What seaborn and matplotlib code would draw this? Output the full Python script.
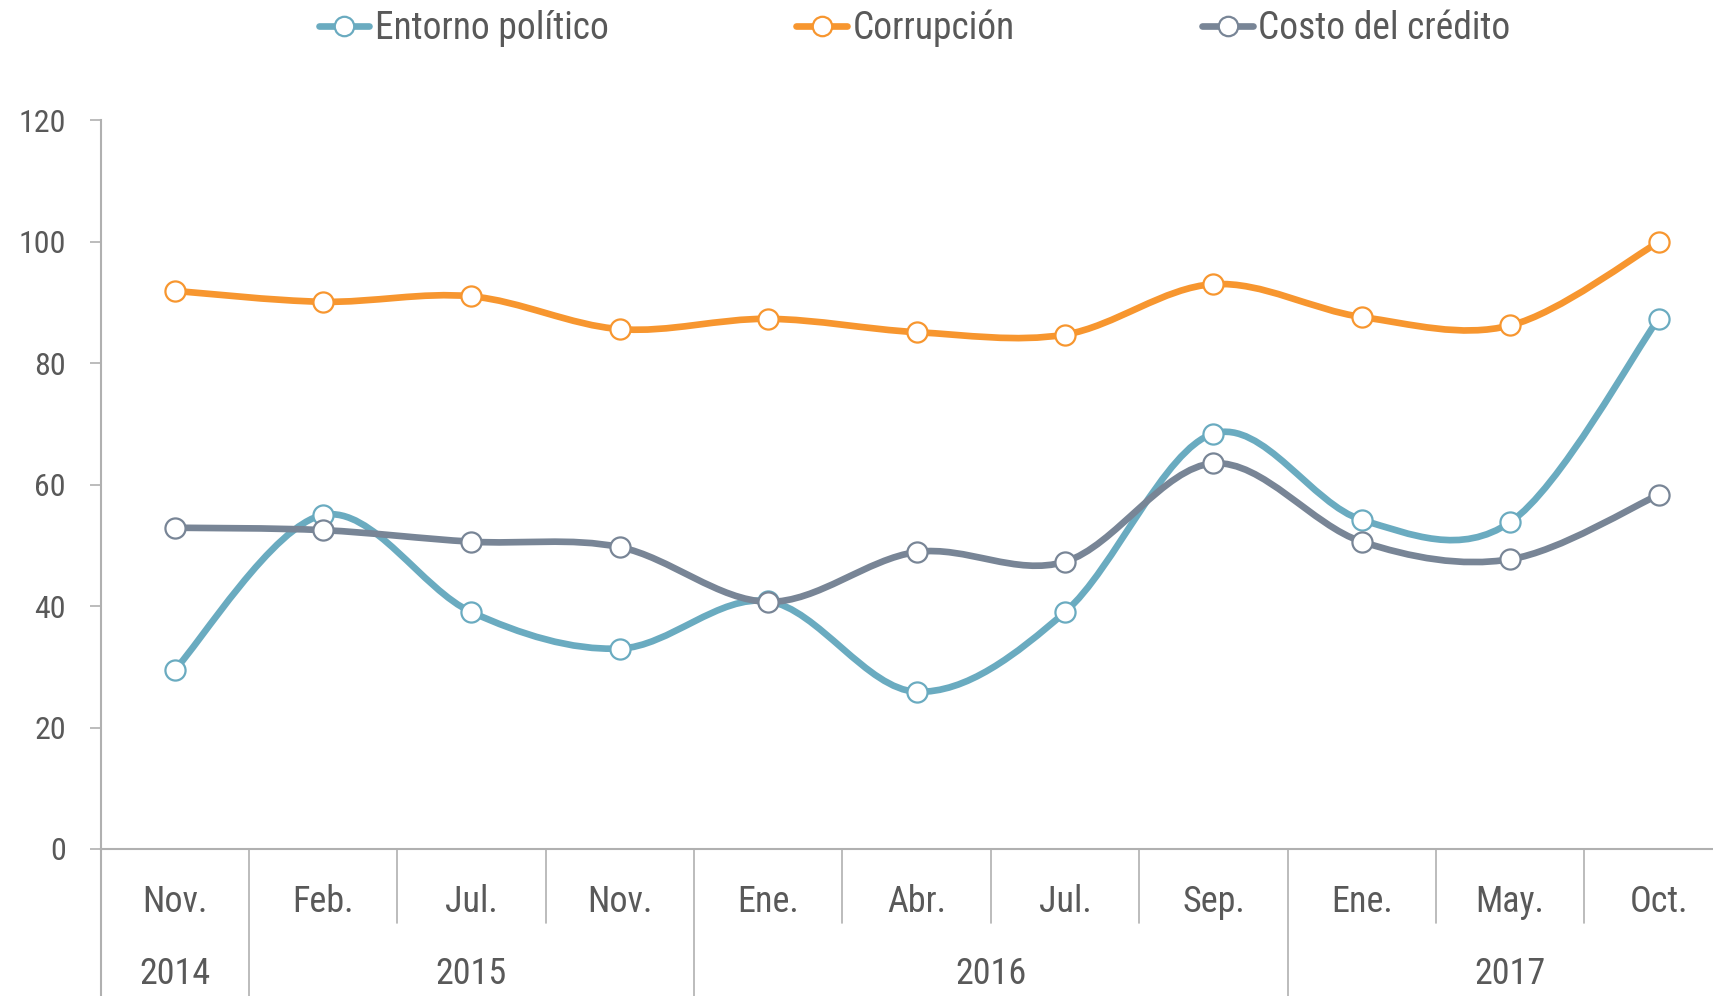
import matplotlib.pyplot as plt
import numpy as np
import pandas as pd
import seaborn as sns
from matplotlib import font_manager
from matplotlib.lines import Line2D
from matplotlib.path import Path
from matplotlib.patches import PathPatch

months = ["Nov.", "Feb.", "Jul.", "Nov.", "Ene.", "Abr.", "Jul.", "Sep.", "Ene.", "May.", "Oct."]
years = ["2014", "2015", "2016", "2017"]
year_first = [0, 1, 4, 8]
year_last = [0, 3, 7, 10]
entorno = [29.5, 55.0, 39.0, 33.0, 40.8, 25.9, 39.0, 68.4, 54.2, 53.8, 87.3]
corrupcion = [91.9, 90.1, 91.0, 85.6, 87.3, 85.1, 84.7, 93.0, 87.6, 86.2, 99.9]
credito = [52.9, 52.5, 50.6, 49.7, 40.7, 48.9, 47.3, 63.5, 50.6, 47.7, 58.3]
series = ["Entorno político", "Corrupción", "Costo del crédito"]
colors = ["#6aabc0", "#f7962f", "#788596"]

df = pd.DataFrame({"x": np.arange(len(months)), "Entorno político": entorno,
                   "Corrupción": corrupcion, "Costo del crédito": credito})

sns.set_theme(style="white")

# pick a narrow face if one is installed
fonts = font_manager.fontManager.ttflist
names = {f.name for f in fonts}
stretch = "normal"
family = "DejaVu Sans"
for cand in ["Liberation Sans Narrow", "Roboto Condensed", "Open Sans Condensed", "Noto Sans Display"]:
    if cand in names:
        family = cand
        break
else:
    for f in fonts:
        if f.name in ("DejaVu Sans", "Noto Sans", "Roboto", "Open Sans") and str(f.stretch) in ("condensed", "semi-condensed", "extra-condensed", "500", "300", "200"):
            family, stretch = f.name, f.stretch
            break
plt.rcParams["font.family"] = [family, "DejaVu Sans"]
plt.rcParams["font.stretch"] = stretch

txt = "#595959"
grey = "#b0b0b0"
fs = 26
lw = 4.8


def smooth_path(x, y):
    # catmull-rom style bezier, like excel "smoothed line"
    p = np.column_stack([x, y]).astype(float)
    ext = np.vstack([p[0], p, p[-1]])
    verts = [p[0]]
    codes = [Path.MOVETO]
    for i in range(len(p) - 1):
        p0, p1, p2, p3 = ext[i], ext[i + 1], ext[i + 2], ext[i + 3]
        verts += [p1 + (p2 - p0) / 6, p2 - (p3 - p1) / 6, p2]
        codes += [Path.CURVE4] * 3
    return Path(verts, codes)


fig = plt.figure(figsize=(17.13, 9.96), dpi=100)
ax = fig.add_axes([0.0587, 0.1476, 0.9528, 0.7317])

for k, (name, c) in enumerate(zip(series, colors)):
    ax.add_patch(PathPatch(smooth_path(df["x"], df[name]), fill=False, edgecolor=c,
                           lw=lw, capstyle="round", zorder=2 + 2 * k))
    sns.scatterplot(data=df, x="x", y=name, ax=ax, s=210, color="white",
                    edgecolor=c, linewidth=1.6, zorder=3 + 2 * k)

ax.set_xlim(-0.5, len(months) - 0.5)
ax.set_ylim(0, 120)
ax.set_yticks(range(0, 121, 20))
ax.set_xticks([])
ax.set_xlabel("")
ax.set_ylabel("")
ax.tick_params(axis="y", left=True, length=8, width=1.2, color=grey, pad=17,
               labelsize=23, labelcolor=txt)
for s in ["top", "right"]:
    ax.spines[s].set_visible(False)
for s in ["left", "bottom"]:
    ax.spines[s].set_color(grey)
    ax.spines[s].set_linewidth(1.5)

# multi-level category axis
tr = ax.get_xaxis_transform()
ax.plot([-0.5, -0.5], [0, -0.25], transform=tr, color=grey, lw=1.5, clip_on=False)
for i, m in enumerate(months):
    ax.text(i, -0.073, m, transform=tr, ha="center", va="center", fontsize=fs, color=txt)
for i in range(1, len(months)):
    b = i - 0.5
    long_line = i in year_first
    ax.plot([b, b], [0, -0.25 if long_line else -0.102], transform=tr, color=grey,
            lw=1.2, clip_on=False)
for y, a, b in zip(years, year_first, year_last):
    ax.text((a + b) / 2, -0.172, y, transform=tr, ha="center", va="center",
            fontsize=fs, color=txt)

handles = [Line2D([], [], color=c, lw=lw, marker="o", markersize=14,
                  markerfacecolor="white", markeredgecolor=c, markeredgewidth=1.6)
           for c in colors]
fig.legend(handles, series, loc="center", bbox_to_anchor=(0.534, 0.972), ncol=3,
           frameon=False, fontsize=27, labelcolor=txt, handlelength=1.35,
           handletextpad=0.15, columnspacing=5.0)

fig.savefig("out.png", dpi=100)
